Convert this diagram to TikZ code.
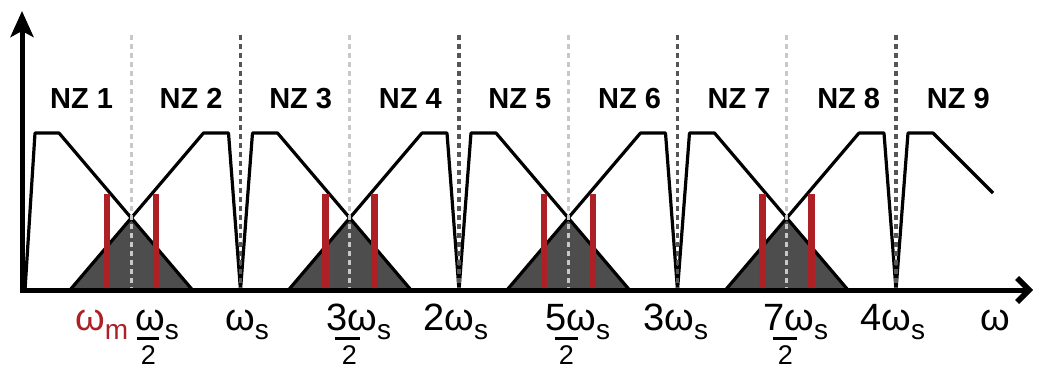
\documentclass[tikz,border=0pt]{standalone}
\usepackage{fontspec}
\setmainfont{Liberation Sans}
\usetikzlibrary{arrows.meta}
\definecolor{redbar}{RGB}{172,32,38}
\definecolor{darkfill}{RGB}{77,77,77}
\definecolor{lightdash}{RGB}{200,200,200}
\definecolor{darkdash}{RGB}{85,85,85}
\newcommand{\subS}[1]{\raisebox{-9pt}{\fontsize{28}{28}\selectfont #1}}
\begin{document}
\begin{tikzpicture}[x=1pt,y=-1pt,
  spec/.style={line width=3.2pt,line join=round},
  tri/.style={fill=darkfill,draw=none},
  halfdash/.style={draw=lightdash,line width=3.4pt,dash pattern=on 5pt off 4pt},
  fulldash/.style={draw=darkdash,line width=3.4pt,dash pattern=on 5pt off 4pt},
  redline/.style={draw=redbar,line width=6.5pt},
  axis/.style={line width=5pt},
  nz/.style={anchor=base,inner sep=0pt,font=\fontsize{29}{29}\selectfont\bfseries},
  lab/.style={anchor=base west,inner sep=0pt,font=\fontsize{38}{38}\selectfont},
  two/.style={anchor=base,inner sep=0pt,font=\fontsize{27}{27}\selectfont},
  fbar/.style={line width=3pt}]
\useasboundingbox (0,0) rectangle (1037,367);
\clip (0,0) rectangle (1037,367);
% dark triangles
\foreach \h in {131.25,349.75,568.25,786.75}{
  \fill[tri] ({\h-61.25},290) -- (\h,218) -- ({\h+61.25},290) -- cycle;
}
% spectrum
\draw[spec] (25,290) -- (35,133) -- (59,133) -- (192.5,290);
\foreach \c in {240.5,459,677.5}{
  \draw[spec] ({\c-170.5},290) -- ({\c-37},133) -- ({\c-12},133) -- (\c,290)
    -- ({\c+12},133) -- ({\c+37},133) -- ({\c+170.5},290);
}
\draw[spec] (725.5,290) -- (859,133) -- (884,133) -- (896,290) -- (908,133) -- (933,133) -- (993,193);
% dashed boundaries
\foreach \h in {131.25,349.75,568.25,786.75}{
  \draw[halfdash] (\h,35) -- (\h,290);
}
\foreach \c in {240.5,459,677.5,896}{
  \draw[fulldash] (\c,35) -- (\c,290);
}
% red bars
\foreach \h in {131.25,349.75,568.25,786.75}{
  \draw[redline] ({\h-24.5},194) -- ({\h-24.5},290);
  \draw[redline] ({\h+24.5},194) -- ({\h+24.5},290);
}
% axes
\coordinate (O) at (22,290);
\coordinate (ytip) at (22,11);
\coordinate (xtip) at (1033,290);
\draw[axis,-{Stealth[length=26pt,width=23pt,inset=6pt]}] ([yshift=-2.5pt]O) -- (ytip);
\draw[axis,-{Straight Barb[length=12pt,width=24pt,line width=5.5pt]}] ([xshift=-2.5pt]O) -- (xtip);
% zone labels
\foreach \i in {1,...,9}{
  \node[nz] (nz\i) at ({81.5+109.6*(\i-1)},108) {NZ \i};
}
% axis labels
\node[lab,text=redbar] (wm) at (75,330) {ω\subS{m}};
\node[lab] (ws2) at (135,330) {ω\subS{s}};
\draw[fbar] (137,338) -- (159,338);
\node[two] (ws2d) at (148.5,364) {2};
\node[lab] (ws) at (225,330) {ω\subS{s}};
\node[lab] (w3s2) at (326,330) {3ω\subS{s}};
\draw[fbar] (335,338) -- (360,338);
\node[two] (w3s2d) at (349.5,364) {2};
\node[lab] (w2s) at (423,330) {2ω\subS{s}};
\node[lab] (w5s2) at (545,330) {5ω\subS{s}};
\draw[fbar] (555,338) -- (578,338);
\node[two] (w5s2d) at (566.5,364) {2};
\node[lab] (w3s) at (643,330) {3ω\subS{s}};
\node[lab] (w7s2) at (763,330) {7ω\subS{s}};
\draw[fbar] (773,338) -- (797,338);
\node[two] (w7s2d) at (785.5,364) {2};
\node[lab] (w4s) at (860,330) {4ω\subS{s}};
\node[lab] (w) at (980,330) {ω};
\end{tikzpicture}
\end{document}
